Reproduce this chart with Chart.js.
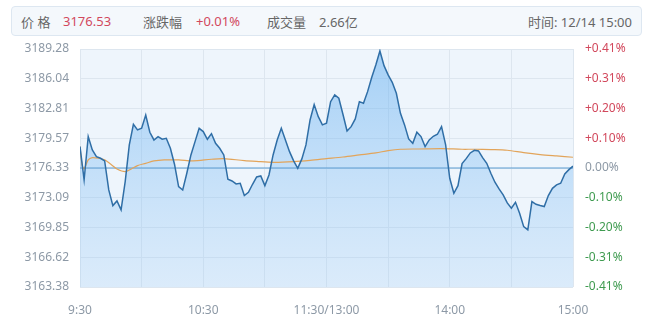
<!DOCTYPE html>
<html>
<head>
<meta charset="utf-8">
<script src="https://cdn.jsdelivr.net/npm/chart.js@4.4.0/dist/chart.umd.min.js"></script>
<style>
body { margin: 0; background: #fff; font-family: 'Noto Sans', 'Noto Sans CJK SC', sans-serif; }
#wrap { position: relative; width: 657px; height: 326px; }
#head { position: absolute; left: 11px; top: 6px; width: 629px; height: 28px; border: 1px solid #dde7f1; border-radius: 4px; background: #f4f8fc; font-size: 13px; color: #666; }
#head span { position: absolute; top: 5px; white-space: nowrap; }
#head .red { color: #d2485c; }
canvas { position: absolute; left: 0; top: 0; }
</style>
</head>
<body>
<div id="wrap">
  <canvas id="chart" width="657" height="326"></canvas>
  <div id="head">
    <span style="left:9px">价 格</span>
    <span class="red" style="left:51px">3176.53</span>
    <span style="left:131px">涨跌幅</span>
    <span class="red" style="left:184px">+0.01%</span>
    <span style="left:255px">成交量</span>
    <span style="left:307px">2.66亿</span>
    <span style="right:9px">时间: 12/14 15:00</span>
  </div>
</div>
<script>
const preClose = 3176.33;
const priceTicks = [3189.28, 3186.04, 3182.81, 3179.57, 3176.33, 3173.09, 3169.85, 3166.62, 3163.38];
const pctTicks = ['+0.41%', '+0.31%', '+0.20%', '+0.10%', '0.00%', '-0.10%', '-0.20%', '-0.31%', '-0.41%'];
const timeTicks = [0, 60, 120, 180, 240];
const timeLabels = ['9:30', '10:30', '11:30/13:00', '14:00', '15:00'];

// one price every 2 trading minutes, 9:30 -> 15:00
const priceStep = 2;
const prices = [
  3178.66, 3175.03, 3179.75, 3178.29, 3177.57, 3177.39, 3177.10, 3173.94, 3172.24, 3172.75,
  3171.77, 3174.85, 3178.84, 3181.09, 3180.47, 3180.65, 3182.10, 3180.22, 3179.38, 3179.75,
  3179.46, 3179.56, 3178.48, 3176.74, 3174.31, 3173.94, 3175.76, 3177.75, 3179.20, 3180.65,
  3180.29, 3179.46, 3180.07, 3179.02, 3178.48, 3177.75, 3175.10, 3174.92, 3174.60, 3174.67,
  3173.33, 3173.69, 3174.56, 3175.36, 3175.47, 3174.41, 3175.57, 3177.75, 3179.38, 3180.65,
  3179.38, 3178.11, 3177.10, 3176.30, 3177.32, 3178.84, 3181.56, 3183.23, 3181.92, 3181.02,
  3181.20, 3183.55, 3184.28, 3183.92, 3182.18, 3180.36, 3180.83, 3181.67, 3183.55, 3183.37,
  3184.64, 3186.17, 3187.54, 3189.07, 3187.47, 3186.46, 3185.66, 3184.46, 3182.28, 3181.02,
  3179.49, 3179.02, 3180.22, 3179.75, 3178.66, 3179.38, 3179.78, 3180.00, 3180.83, 3178.84,
  3175.21, 3173.58, 3174.41, 3176.81, 3177.35, 3177.97, 3178.26, 3178.19, 3177.46, 3176.84,
  3175.76, 3174.78, 3174.05, 3173.40, 3172.53, 3171.95, 3172.60, 3171.40, 3169.95, 3169.59,
  3172.67, 3172.38, 3172.24, 3172.13, 3173.33, 3174.12, 3174.49, 3174.67, 3175.68, 3176.15,
  3176.53
];

// average price line
const avgMinutes = [0, 1, 2, 4, 6, 9, 12, 15, 18, 22, 25, 28, 32, 36, 41, 48, 55, 64, 70, 80,
  88, 95, 104, 112, 120, 128, 136, 144, 150, 156, 165, 176, 186, 192, 200, 208, 216, 224, 232, 240];
const avgPrices = [3178.66, 3176.66, 3176.23, 3177.21, 3177.46, 3177.39, 3177.21, 3176.74, 3176.23, 3175.94,
  3176.23, 3176.59, 3176.84, 3177.10, 3177.21, 3177.21, 3177.10, 3177.28, 3177.35, 3177.13,
  3177.03, 3176.95, 3177.03, 3177.17, 3177.35, 3177.53, 3177.75, 3177.97, 3178.22, 3178.37,
  3178.40, 3178.44, 3178.37, 3178.37, 3178.33, 3178.26, 3178.00, 3177.79, 3177.64, 3177.50];

const RED = '#d2485c', GREEN = '#3f9b50', GRAY = '#8d99a6';

function tickIndex(v) {
  return priceTicks.findIndex(t => Math.abs(t - v) < 0.001);
}

const plotBg = {
  id: 'plotBg',
  beforeDraw(chart) {
    const { ctx, chartArea: a } = chart;
    ctx.save();
    ctx.fillStyle = '#eef5fc';
    ctx.fillRect(a.left, a.top, a.width, a.height);
    ctx.restore();
  }
};

const ctx = document.getElementById('chart').getContext('2d');
new Chart(ctx, {
  type: 'line',
  data: {
    datasets: [
      {
        label: '价格',
        data: prices.map((p, i) => ({ x: i * priceStep, y: p })),
        borderColor: '#2f6ea6',
        borderWidth: 1.5,
        pointRadius: 0,
        tension: 0,
        fill: 'start',
        backgroundColor: c => {
          const a = c.chart.chartArea;
          if (!a) return 'rgba(0,0,0,0)';
          const g = c.chart.ctx.createLinearGradient(0, a.top, 0, a.bottom);
          g.addColorStop(0, 'rgba(90,170,240,0.5)');
          g.addColorStop(1, 'rgba(150,200,245,0.22)');
          return g;
        },
        order: 1
      },
      {
        label: '均价',
        data: avgMinutes.map((m, i) => ({ x: m, y: avgPrices[i] })),
        borderColor: '#e2a45a',
        borderWidth: 1.2,
        pointRadius: 0,
        tension: 0.3,
        fill: false,
        order: 2
      },
      {
        label: '昨收',
        data: [{ x: timeTicks[0], y: preClose }, { x: timeTicks[timeTicks.length - 1], y: preClose }],
        borderColor: '#5b9bd1',
        borderWidth: 1,
        pointRadius: 0,
        fill: false,
        order: 3
      }
    ]
  },
  options: {
    responsive: false,
    animation: false,
    layout: { padding: { top: 49, left: 0, right: 0, bottom: 0 } },
    plugins: {
      legend: { display: false },
      tooltip: { enabled: false },
      filler: { drawTime: 'beforeDatasetsDraw' }
    },
    scales: {
      x: {
        type: 'linear',
        min: 0,
        max: 240,
        border: { display: false },
        grid: { color: '#dde6ef', drawTicks: false },
        afterFit: s => { s.height = 39; },
        ticks: {
          stepSize: 30,
          autoSkip: false,
          maxRotation: 0,
          padding: 16,
          color: GRAY,
          font: { size: 12, family: "'Noto Sans', sans-serif" },
          callback: v => {
            const i = timeTicks.indexOf(v);
            return i >= 0 ? timeLabels[i] : '';
          }
        }
      },
      y: {
        position: 'left',
        min: priceTicks[priceTicks.length - 1],
        max: priceTicks[0],
        border: { display: false },
        grid: { color: '#dde6ef', drawTicks: false },
        afterBuildTicks: s => { s.ticks = priceTicks.slice().reverse().map(v => ({ value: v })); },
        afterFit: s => { s.width = 80; },
        ticks: {
          padding: 11,
          color: GRAY,
          font: { size: 12, family: "'Noto Sans', sans-serif" },
          callback: v => v.toFixed(2)
        }
      },
      y2: {
        position: 'right',
        min: priceTicks[priceTicks.length - 1],
        max: priceTicks[0],
        border: { display: false },
        grid: { display: false, drawTicks: false },
        afterBuildTicks: s => { s.ticks = priceTicks.slice().reverse().map(v => ({ value: v })); },
        afterFit: s => { s.width = 84; },
        ticks: {
          padding: 12,
          font: { size: 12, family: "'Noto Sans', sans-serif" },
          color: c => {
            const i = tickIndex(c.tick.value);
            return i < 4 ? RED : (i === 4 ? GRAY : GREEN);
          },
          callback: v => pctTicks[tickIndex(v)]
        }
      }
    }
  },
  plugins: [plotBg]
});
</script>
</body>
</html>
